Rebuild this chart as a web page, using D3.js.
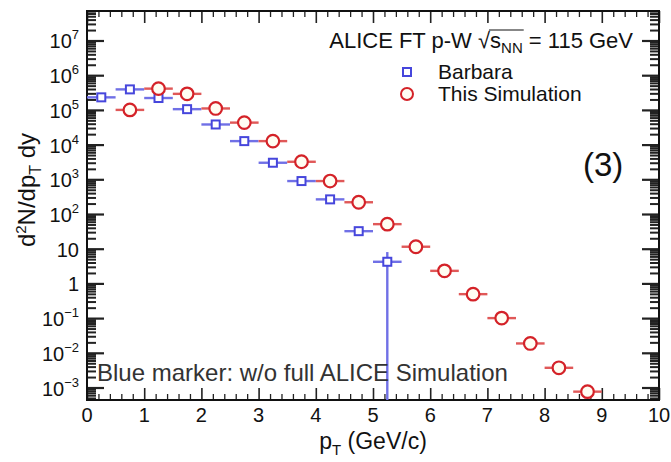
<!DOCTYPE html>
<html>
<head>
<meta charset="utf-8">
<script src="https://cdn.jsdelivr.net/npm/d3@7"></script>
<style>
  html, body { margin: 0; padding: 0; background: #fff; }
  svg { display: block; font-family: "Liberation Sans", Arial, Helvetica, sans-serif; }
</style>
</head>
<body>
<svg id="chart" width="671" height="462"></svg>
<script>
// pT bins (GeV/c): bin centres, half width of each bin
const binHalfWidth = 0.25;

// "Barbara" spectrum
const barbaraPt    = [0.25, 0.75, 1.25, 1.75, 2.25, 2.75, 3.25, 3.75, 4.25, 4.75, 5.25];
const barbaraYield = [2.3e5, 3.9e5, 2.2e5, 1.05e5, 3.8e4, 1.26e4, 3.0e3, 890, 264, 32, 4.2];
const barbaraErrUp   = [0, 0, 0, 0, 0, 0, 0, 0, 0, 0, 3.8];
const barbaraErrDown = [0, 0, 0, 0, 0, 0, 0, 0, 0, 0, 4.2];

// "This Simulation" spectrum
const simPt    = [0.75, 1.25, 1.75, 2.25, 2.75, 3.25, 3.75, 4.25, 4.75, 5.25, 5.75, 6.25, 6.75, 7.25, 7.75, 8.25, 8.75];
const simYield = [1.0e5, 4.1e5, 2.9e5, 1.1e5, 4.3e4, 1.26e4, 3.2e3, 890, 218, 51, 11.4, 2.3, 0.49, 0.10, 0.0186, 0.0037, 7.6e-4];

// axis ticks
const xTickValues = [0, 1, 2, 3, 4, 5, 6, 7, 8, 9, 10];
const xTickLabels = ["0", "1", "2", "3", "4", "5", "6", "7", "8", "9", "10"];
const yTickExponents = [-3, -2, -1, 0, 1, 2, 3, 4, 5, 6, 7];

const frame = { left: 87, right: 659, top: 11, bottom: 400 };

const x = d3.scaleLinear().domain([0, 10]).range([frame.left, frame.right]);
const y = d3.scaleLog().domain([Math.pow(10, -3.36), Math.pow(10, 7.85)]).range([frame.bottom, frame.top]);

const svg = d3.select("#chart");
const blue = "#4646dc", blueBar = "#7070e6";
const red = "#d42228", redBar = "#e05858";

// minor ticks
const xMinor = d3.range(0, 10.001, 0.2).filter(v => Math.abs(v - Math.round(v)) > 1e-6);
const yMajor = yTickExponents.map(e => Math.pow(10, e));
const yMinor = [];
for (let e = -4; e <= 7; e++) for (let k = 2; k <= 9; k++) {
  const v = k * Math.pow(10, e);
  if (v > y.domain()[0] && v < y.domain()[1]) yMinor.push(v);
}

function styleAxis(g, w) {
  g.select(".domain").remove();
  g.selectAll("line").attr("stroke", "#222").attr("stroke-width", w);
  g.selectAll("text").remove();
}

// bottom / top x ticks (pointing inwards)
svg.append("g").attr("transform", `translate(0,${frame.bottom})`)
  .call(d3.axisBottom(x).tickValues(xTickValues).tickSize(-12)).call(g => styleAxis(g, 1.6));
svg.append("g").attr("transform", `translate(0,${frame.bottom})`)
  .call(d3.axisBottom(x).tickValues(xMinor).tickSize(-6)).call(g => styleAxis(g, 1.3));
svg.append("g").attr("transform", `translate(0,${frame.top})`)
  .call(d3.axisTop(x).tickValues(xTickValues).tickSize(-12)).call(g => styleAxis(g, 1.6));
svg.append("g").attr("transform", `translate(0,${frame.top})`)
  .call(d3.axisTop(x).tickValues(xMinor).tickSize(-6)).call(g => styleAxis(g, 1.3));

// left / right log ticks
svg.append("g").attr("transform", `translate(${frame.left},0)`)
  .call(d3.axisLeft(y).tickValues(yMajor).tickSize(-17)).call(g => styleAxis(g, 2.2));
svg.append("g").attr("transform", `translate(${frame.left},0)`)
  .call(d3.axisLeft(y).tickValues(yMinor).tickSize(-9)).call(g => styleAxis(g, 2.0));
svg.append("g").attr("transform", `translate(${frame.right},0)`)
  .call(d3.axisRight(y).tickValues(yMajor).tickSize(-17)).call(g => styleAxis(g, 2.2));
svg.append("g").attr("transform", `translate(${frame.right},0)`)
  .call(d3.axisRight(y).tickValues(yMinor).tickSize(-9)).call(g => styleAxis(g, 2.0));

// frame
svg.append("rect")
  .attr("x", frame.left).attr("y", frame.top)
  .attr("width", frame.right - frame.left).attr("height", frame.bottom - frame.top)
  .attr("fill", "none").attr("stroke", "#111").attr("stroke-width", 2);

// x tick labels
svg.append("g").selectAll("text").data(xTickValues).join("text")
  .attr("x", d => x(d)).attr("y", frame.bottom + 22)
  .attr("text-anchor", "middle").attr("font-size", 20).attr("fill", "#111")
  .text((d, i) => xTickLabels[i]);

// y tick labels with superscript exponents
const yl = svg.append("g").selectAll("text").data(yTickExponents).join("text")
  .attr("x", frame.left - 8).attr("y", e => y(Math.pow(10, e)) + 8)
  .attr("text-anchor", "end").attr("font-size", 20).attr("fill", "#111");
yl.each(function (e) {
  const t = d3.select(this);
  if (e === 0) { t.text("1"); return; }
  if (e === 1) { t.text("10"); return; }
  t.append("tspan").text("10");
  t.append("tspan").attr("dy", -9).attr("font-size", 13)
    .text(e < 0 ? "\u2212" + (-e) : String(e));
});

// axis titles
const xt = svg.append("text").attr("x", x(5)).attr("y", 449)
  .attr("text-anchor", "middle").attr("font-size", 23).attr("fill", "#111");
xt.append("tspan").text("p");
xt.append("tspan").attr("font-size", 15).attr("dy", 6).text("T");
xt.append("tspan").attr("dy", -6).text(" (GeV/c)");

const yt = svg.append("text").attr("transform", "translate(35,190) rotate(-90)")
  .attr("text-anchor", "middle").attr("font-size", 24).attr("fill", "#111");
yt.append("tspan").text("d");
yt.append("tspan").attr("font-size", 15).attr("dy", -9).text("2");
yt.append("tspan").attr("dy", 9).text("N/dp");
yt.append("tspan").attr("font-size", 16).attr("dy", 6).text("T");
yt.append("tspan").attr("dy", -6).text(" dy");

// error bars + markers
const plot = svg.append("g");
function hbars(pts, vals, color) {
  plot.append("g").selectAll("line").data(pts).join("line")
    .attr("x1", d => x(d - binHalfWidth)).attr("x2", d => x(d + binHalfWidth))
    .attr("y1", (d, i) => y(vals[i])).attr("y2", (d, i) => y(vals[i]))
    .attr("stroke", color).attr("stroke-width", 2.4);
}
hbars(barbaraPt, barbaraYield, blueBar);
hbars(simPt, simYield, redBar);

// vertical error bars (lower edge clipped at the frame)
plot.append("g").selectAll("line")
  .data(barbaraPt.map((p, i) => ({ p, v: barbaraYield[i], up: barbaraErrUp[i], dn: barbaraErrDown[i] }))
    .filter(d => d.up > 0 || d.dn > 0))
  .join("line")
  .attr("x1", d => x(d.p)).attr("x2", d => x(d.p))
  .attr("y1", d => y(d.v + d.up))
  .attr("y2", d => (d.v - d.dn) > y.domain()[0] ? y(d.v - d.dn) : frame.bottom)
  .attr("stroke", blueBar).attr("stroke-width", 2.4);

const sq = 8;
plot.append("g").selectAll("rect").data(barbaraPt).join("rect")
  .attr("x", d => x(d) - sq / 2).attr("y", (d, i) => y(barbaraYield[i]) - sq / 2)
  .attr("width", sq).attr("height", sq)
  .attr("fill", "#fff").attr("stroke", blue).attr("stroke-width", 2);

plot.append("g").selectAll("circle").data(simPt).join("circle")
  .attr("cx", d => x(d)).attr("cy", (d, i) => y(simYield[i])).attr("r", 6.3)
  .attr("fill", "#fffdf2").attr("stroke", red).attr("stroke-width", 2.2);

// header with sqrt(s_NN)
const hdr = svg.append("text").attr("x", 633).attr("y", 48)
  .attr("text-anchor", "end").attr("font-size", 22).attr("fill", "#111");
const pre = "ALICE FT p-W \u221A";
hdr.append("tspan").text(pre);
hdr.append("tspan").text("s");
hdr.append("tspan").attr("font-size", 15).attr("dy", 5).text("NN");
hdr.append("tspan").attr("dy", -5).text(" = 115 GeV");
(function () {
  const n = hdr.node();
  const hb = n.getBBox();
  const startS = n.getStartPositionOfChar(pre.length);
  const endNN = n.getEndPositionOfChar(pre.length + 2);
  svg.append("line").attr("x1", startS.x - 1).attr("x2", endNN.x + 1)
    .attr("y1", hb.y + 2).attr("y2", hb.y + 2)
    .attr("stroke", "#111").attr("stroke-width", 1.2);
})();

// legend
svg.append("rect").attr("x", 407 - 4).attr("y", 72 - 4).attr("width", 8).attr("height", 8)
  .attr("fill", "#fff").attr("stroke", blue).attr("stroke-width", 2);
svg.append("text").attr("x", 438).attr("y", 79).attr("font-size", 21).attr("fill", "#111").text("Barbara");
svg.append("circle").attr("cx", 407).attr("cy", 94).attr("r", 6)
  .attr("fill", "#fffdf2").attr("stroke", red).attr("stroke-width", 2);
svg.append("text").attr("x", 438).attr("y", 101).attr("font-size", 21).attr("fill", "#111").text("This Simulation");

svg.append("text").attr("x", 583).attr("y", 176).attr("font-size", 33).attr("fill", "#111").text("(3)");

svg.append("text").attr("x", 97).attr("y", 381).attr("font-size", 24).attr("fill", "#333")
  .text("Blue marker: w/o full ALICE Simulation");
</script>
</body>
</html>
